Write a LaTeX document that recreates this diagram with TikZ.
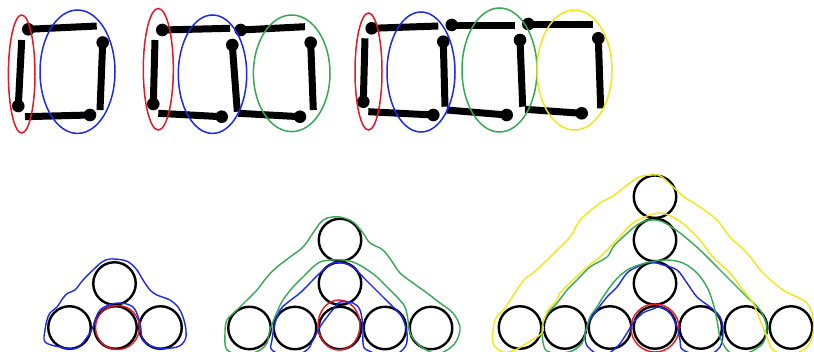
\documentclass[tikz,border=0pt]{standalone}
\definecolor{inkred}{RGB}{232,22,36}
\definecolor{inkblue}{RGB}{28,40,238}
\definecolor{inkgreen}{RGB}{52,168,82}
\definecolor{inkyellow}{RGB}{242,230,20}
\newcommand\matchstick[2]{%
  \draw[stick] #1 -- #2;
  \fill #1 circle (6.3);}
\begin{document}
\begin{tikzpicture}[x=1pt,y=-1pt,
  stick/.style={line width=7pt, line cap=butt},
  oval/.style={line width=1.5pt},
  ring/.style={circle, draw=black, line width=2.4pt, minimum size=42.5pt, inner sep=0pt},
  loopline/.style={line width=1.4pt, line join=round},
  sketchy/.style={smooth cycle, tension=0.55}]
\useasboundingbox (0,0) rectangle (814,351);
\clip (0,0) rectangle (814,351);

% ---------- matchstick figures ----------
% one square
\matchstick{(28.3,29.3)}{(96.7,26)}
\matchstick{(102.7,42.5)}{(100,110)}
\matchstick{(90,115)}{(25,116.7)}
\matchstick{(18.3,106)}{(21.7,40)}
% two squares
\matchstick{(162.3,30)}{(230,28.3)}
\matchstick{(240.7,30)}{(305,26.7)}
\matchstick{(153.3,104)}{(155,40)}
\matchstick{(232.3,45)}{(237.3,111.7)}
\matchstick{(310.7,42.7)}{(313.3,110)}
\matchstick{(221.7,116.7)}{(158.3,113.3)}
\matchstick{(300,116.7)}{(238.3,113.3)}
% three squares
\matchstick{(371.7,28.3)}{(438.3,26)}
\matchstick{(451.7,25)}{(515,25)}
\matchstick{(528.3,24)}{(593.3,24)}
\matchstick{(363.3,101.7)}{(365,38.3)}
\matchstick{(443.3,41.7)}{(445,106.7)}
\matchstick{(520,40)}{(522.7,106.7)}
\matchstick{(598.3,38.3)}{(600.7,108.3)}
\matchstick{(433.3,115)}{(368.3,111.7)}
\matchstick{(506.7,115)}{(446.7,110)}
\matchstick{(581.7,113.3)}{(525,109.3)}

% groupings of matches
\draw[oval, inkred]  (21.7,74) ellipse [x radius=13.3, y radius=59];
\draw[oval, inkblue] (77.5,71.7) ellipse [x radius=37.5, y radius=61.7];

\draw[oval, inkred]   (158.3,69.2) ellipse [x radius=15, y radius=60.8];
\draw[oval, inkblue]  (212.5,74.2) ellipse [x radius=34.2, y radius=59.2];
\draw[oval, inkgreen] (291.7,73.3) ellipse [x radius=38.3, y radius=58.3];

\draw[oval, inkred]    (368.5,71.5) ellipse [x radius=13.5, y radius=58.5];
\draw[oval, inkblue]   (421,72) ellipse [x radius=34, y radius=60];
\draw[oval, inkgreen]  (499.5,70) ellipse [x radius=37.5, y radius=62];
\draw[oval, inkyellow] (574.5,70) ellipse [x radius=37.5, y radius=60];

% ---------- stacked coins ----------
% four coins
\node[ring] (a1) at (69.5,327.5) {};
\node[ring] (a2) at (115.5,327.5) {};
\node[ring] (a3) at (160.5,327.5) {};
\node[ring] (a4) at (114.5,283.5) {};
% seven coins
\node[ring] (b1) at (249.5,328) {};
\node[ring] (b2) at (295,328) {};
\node[ring] (b3) at (340,328) {};
\node[ring] (b4) at (385,328) {};
\node[ring] (b5) at (431,328) {};
\node[ring] (b6) at (340,283.5) {};
\node[ring] (b7) at (340,240) {};
% ten coins
\node[ring] (c1) at (520,327.5) {};
\node[ring] (c2) at (565,327.5) {};
\node[ring] (c3) at (610,327.5) {};
\node[ring] (c4) at (655,327.5) {};
\node[ring] (c5) at (700.7,327.5) {};
\node[ring] (c6) at (746,327.5) {};
\node[ring] (c7) at (791,327.5) {};
\node[ring] (c8) at (655,283.3) {};
\node[ring] (c9) at (655,240) {};
\node[ring] (c10) at (655,196.7) {};

% groupings of coins: four
\draw[loopline, inkred] (117.5,327.5) circle (22);
\draw[loopline, inkblue] plot[sketchy] coordinates {
  (45,330) (47,320) (50,313) (57,307) (63,298) (68,293) (75,290) (83,280)
  (93,270) (102,262) (110,259) (123,260) (130,263) (137,270) (143,280)
  (150,290) (157,295) (170,300) (178,307) (183,317) (186,330) (185,340)
  (177,347) (157,348) (143,340) (140,323) (133,307) (117,303) (100,310)
  (93,327) (90,333) (77,348) (60,347) (45,342)};

% groupings of coins: seven
\draw[loopline, inkred] (339,325) ellipse [x radius=21, y radius=25];
\draw[loopline, inkblue] plot[sketchy] coordinates {
  (272,340) (275,323) (280,310) (287,303) (300,293) (310,283) (320,273)
  (327,267) (333,263) (343,263) (353,267) (363,277) (373,287) (383,297)
  (393,307) (402,317) (407,333) (405,347) (390,357) (367,350) (363,343)
  (363,327) (360,310) (353,303) (340,302) (335,307) (327,317) (320,327)
  (313,340) (307,350) (290,357) (272,350)};
\draw[loopline, inkgreen] plot[sketchy] coordinates {
  (225,333) (227,320) (237,310) (247,300) (257,290) (267,277) (277,267)
  (290,257) (303,247) (313,233) (320,223) (327,218) (340,217) (353,222)
  (363,233) (370,243) (383,250) (393,263) (400,273) (413,283) (427,293)
  (440,303) (453,313) (460,327) (457,340) (450,348) (437,354) (423,348)
  (417,343) (410,333) (408,320) (405,307) (397,297) (387,287) (377,277)
  (363,267) (353,262) (343,260) (330,260) (320,262) (313,267) (303,277)
  (293,287) (283,300) (277,312) (270,330) (267,343) (260,350) (245,355)
  (227,350)};

% groupings of coins: ten
\draw[loopline, inkred] (655,328) circle (24);
\draw[loopline, inkblue] plot[sketchy] coordinates {
  (585,337) (587,327) (590,320) (597,310) (607,297) (617,287) (627,273)
  (637,267) (650,262) (663,265) (677,270) (687,283) (697,297) (710,307)
  (720,317) (723,330) (720,347) (705,356) (683,350) (680,340) (677,327)
  (670,313) (660,307) (653,309) (643,313) (633,323) (627,333) (617,347)
  (602,356) (588,347)};
\draw[loopline, inkgreen] plot[sketchy] coordinates {
  (542,327) (548,313) (557,303) (567,290) (577,280) (590,267) (607,257)
  (613,247) (623,237) (637,225) (650,220) (663,222) (680,233) (700,250)
  (717,267) (733,283) (747,297) (760,310) (767,327) (763,343) (750,352)
  (735,355) (727,350) (720,337) (717,320) (713,303) (707,287) (697,273)
  (683,263) (667,260) (650,262) (633,267) (623,273) (613,283) (603,297)
  (597,307) (590,317) (586,330) (582,343) (572,351) (557,353) (545,349)};
\draw[loopline, inkyellow] plot[sketchy] coordinates {
  (495,320) (505,308) (523,281) (533,273) (547,260) (570,237) (580,220)
  (600,203) (613,196) (637,178) (653,175) (662,177) (683,196) (700,207)
  (717,220) (730,237) (747,253) (763,273) (783,290) (797,297) (807,303)
  (813,317) (813,333) (807,347) (790,355) (773,350) (767,337) (760,320)
  (753,303) (743,290) (730,273) (713,257) (700,240) (687,227) (673,217)
  (660,213) (647,216) (633,223) (623,233) (610,247) (600,257) (587,267)
  (573,280) (560,293) (557,300) (548,310) (543,323) (542,333) (527,343)
  (515,350) (503,352) (493,343)};
\end{tikzpicture}
\end{document}
